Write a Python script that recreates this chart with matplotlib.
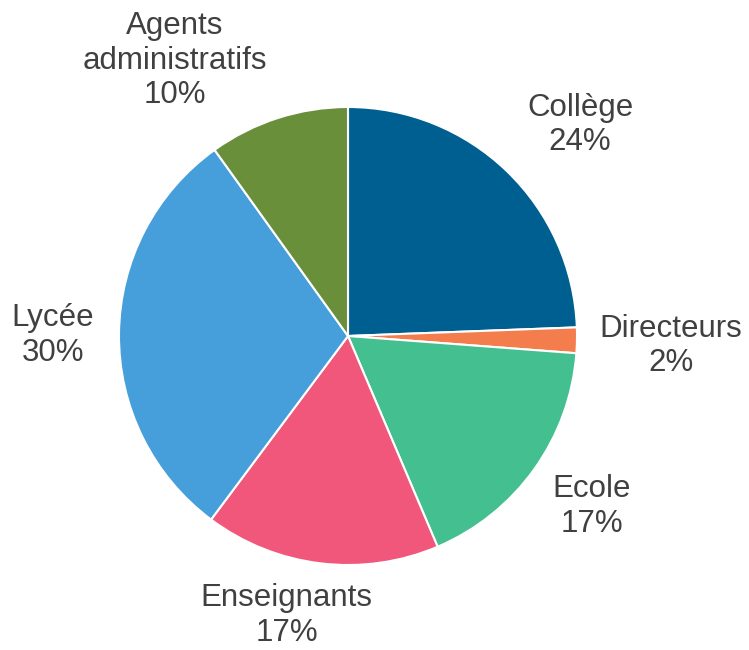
import numpy as np
from matplotlib import pyplot as plt

plt.rcParams['font.family'] = ['Liberation Sans', 'DejaVu Sans']

# slice values (percent of total), clockwise from 12 o'clock
categories = ['Collège', 'Directeurs', 'Ecole', 'Enseignants', 'Lycée',
              'Agents\nadministratifs']
values = [24.4, 1.8, 17.4, 16.6, 29.9, 9.9]
pct_labels = ['24%', '2%', '17%', '17%', '30%', '10%']
colors = ['#005F91', '#F47D4E', '#44BF8F', '#F0577A', '#469EDA', '#6A8F3A']

fig = plt.figure(figsize=(7.49, 6.5), dpi=100)
ax = fig.add_axes([0, 0, 1, 1])

wedges, _ = ax.pie(values, colors=colors, startangle=90, counterclock=False,
                   radius=1, center=(0, 0),
                   wedgeprops=dict(edgecolor='white', linewidth=1.5))

# label placement: distance from centre and small angular nudge
label_r = [1.37, 1.41, 1.30, 1.25, 1.29, 1.42]
label_da = [-3.8, -0.7, 0.7, -5.5, 0.5, 14.3]

for w, cat, pct, r, da in zip(wedges, categories, pct_labels, label_r, label_da):
    ang = np.deg2rad((w.theta1 + w.theta2) / 2 + da)
    ax.text(r * np.cos(ang), r * np.sin(ang), cat + '\n' + pct,
            ha='center', va='center', fontsize=22.5, color='#404040',
            linespacing=1.2)

ax.set_xlim(-348 / 229, (749 - 348) / 229)
ax.set_ylim(-(650 - 336) / 229, 336 / 229)
ax.set_aspect('equal')
ax.axis('off')

fig.savefig('out.png', dpi=100)
